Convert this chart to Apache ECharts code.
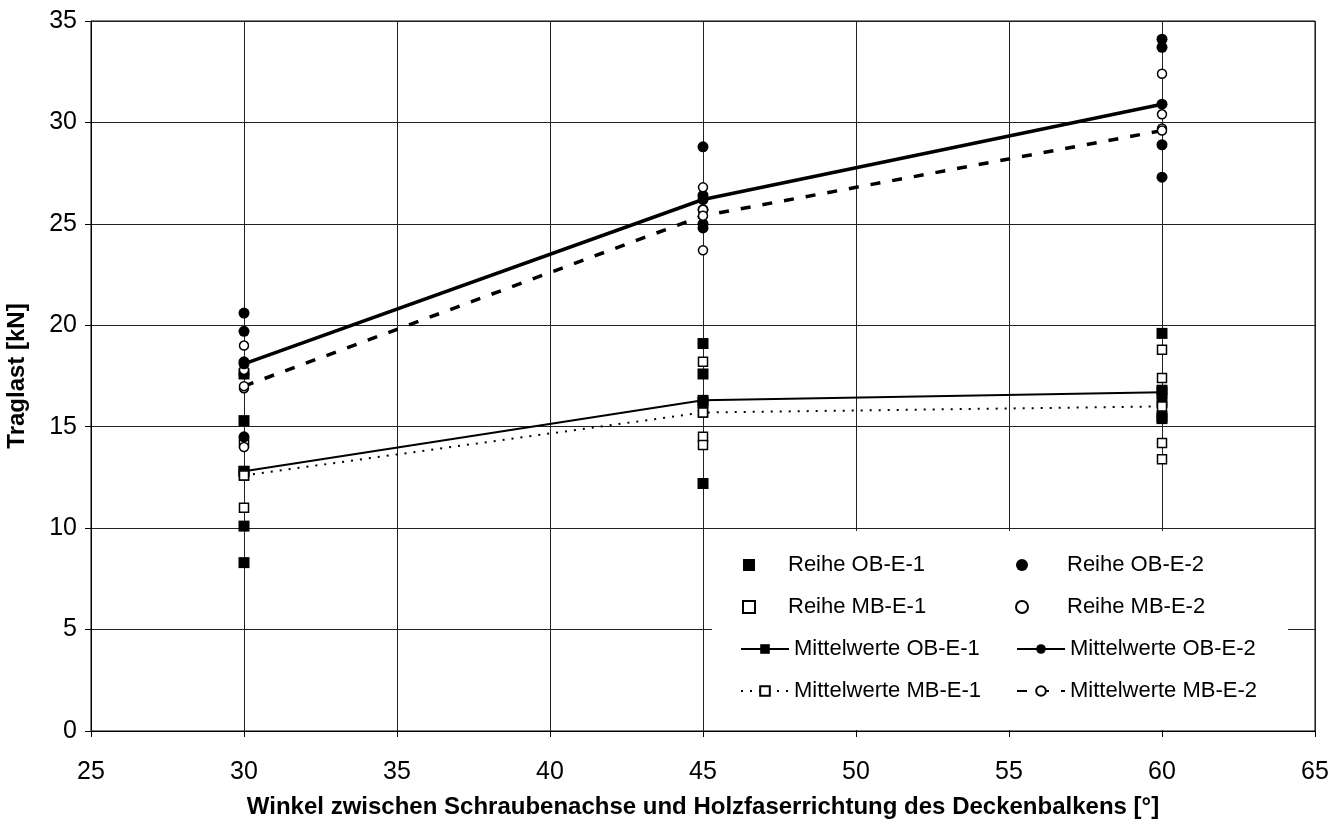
<!DOCTYPE html>
<html>
<head>
<meta charset="utf-8">
<script src="https://cdn.jsdelivr.net/npm/echarts@6/dist/echarts.min.js"></script>
<style>
  html, body { margin: 0; padding: 0; background: #fff; }
  #chart { width: 1344px; height: 830px; }
</style>
</head>
<body>
<div id="chart"></div>
<script>
// Winkel (x) der Versuchsreihen
const angles = [30, 45, 60]

// Einzelwerte je Winkel (Traglast in kN)
const reiheOBE1 = [[17.6, 15.3, 12.8, 10.1, 8.3], [19.1, 17.6, 16.2, 12.2], [19.6, 16.8, 16.2, 15.5, 15.4]]
const reiheMBE1 = [[14.2, 12.6, 11.0], [18.2, 15.7, 14.5, 14.1], [18.8, 17.4, 14.2, 13.4]]
const reiheOBE2 = [[20.6, 19.7, 18.2, 17.6, 14.5], [28.8, 26.4, 25.7, 25.0, 24.8], [34.1, 33.7, 28.9, 27.3]]
const reiheMBE2 = [[19.0, 17.8, 16.9, 14.0], [26.8, 25.7, 23.7], [32.4, 30.4, 29.7]]

// Mittelwerte je Winkel
const mittelOBE1 = [12.8, 16.3, 16.7]
const mittelMBE1 = [12.6, 15.7, 16.0]
const mittelOBE2 = [18.1, 26.2, 30.9]
const mittelMBE2 = [17.0, 25.4, 29.6]

const FONT = 'Liberation Sans'
const SQUARE = 'path://M0,0H10V10H0Z'

// Einzelwerte in [x, y]-Paare umwandeln
const toPoints = (groups) => {
  const pts = []
  groups.forEach((vals, i) => vals.forEach(v => pts.push([angles[i], v])))
  return pts
}
const toLine = (vals) => vals.map((v, i) => [angles[i], v])

const filled = { color: '#000', opacity: 1 }
const hollow = { color: '#fff', borderColor: '#000', borderWidth: 1.5, opacity: 1 }

const chart = echarts.init(document.getElementById('chart'))

// Legende: Einzelwerte (nur Symbol) und Mittelwerte (Linie + Symbol) getrennt
const legendReihe = (left, padLeft, names) => ({
  orient: 'vertical',
  left: left,
  top: 549,
  itemWidth: 12,
  itemHeight: 12,
  itemGap: 20,
  textStyle: { fontFamily: FONT, fontSize: 22, color: '#000', padding: [0, 0, 0, padLeft] },
  data: names
})
const legendMittel = (left, names) => ({
  orient: 'vertical',
  left: left,
  top: 633,
  itemWidth: 48,
  itemHeight: 12,
  itemGap: 20,
  textStyle: { fontFamily: FONT, fontSize: 22, color: '#000' },
  data: names
})

const option = {
  backgroundColor: '#fff',
  animation: false,
  textStyle: { fontFamily: FONT, color: '#000' },
  grid: {
    left: 91, right: 29, top: 21, bottom: 99,
    outerBoundsMode: 'none',
    show: true, borderColor: '#000', borderWidth: 1
  },
  xAxis: {
    type: 'value',
    min: 25,
    max: 65,
    interval: 5,
    name: 'Winkel zwischen Schraubenachse und Holzfaserrichtung des Deckenbalkens [°]',
    nameLocation: 'middle',
    nameGap: 64,
    nameTextStyle: { fontFamily: FONT, fontSize: 24, fontWeight: 'bold', color: '#000' },
    axisLine: { show: true, lineStyle: { color: '#000', width: 1 } },
    axisTick: { show: true, length: 6, lineStyle: { color: '#000' } },
    axisLabel: { fontFamily: FONT, fontSize: 25, color: '#000', margin: 29 },
    splitLine: { show: true, lineStyle: { color: '#222', width: 1 } }
  },
  yAxis: {
    type: 'value',
    min: 0,
    max: 35,
    interval: 5,
    name: 'Traglast [kN]',
    nameLocation: 'middle',
    nameGap: 62,
    nameTextStyle: { fontFamily: FONT, fontSize: 24, fontWeight: 'bold', color: '#000' },
    axisLine: { show: true, lineStyle: { color: '#000', width: 1 } },
    axisTick: { show: true, length: 6, lineStyle: { color: '#000' } },
    axisLabel: { fontFamily: FONT, fontSize: 25, color: '#000', margin: 14 },
    splitLine: { show: true, lineStyle: { color: '#222', width: 1 } }
  },
  // weisser Hintergrund der Legende (verdeckt die Gitterlinien)
  graphic: [
    {
      type: 'rect',
      z: 3,
      shape: { x: 712, y: 531, width: 576, height: 199 },
      style: { fill: '#fff' }
    }
  ],
  legend: [
    legendReihe(737, 28, ['Reihe OB-E-1', 'Reihe MB-E-1']),
    legendMittel(735, ['Mittelwerte OB-E-1', 'Mittelwerte MB-E-1']),
    legendReihe(1010, 34, ['Reihe OB-E-2', 'Reihe MB-E-2']),
    legendMittel(1011, ['Mittelwerte OB-E-2', 'Mittelwerte MB-E-2'])
  ],
  series: [
    {
      name: 'Reihe OB-E-1', type: 'scatter', symbol: SQUARE, symbolSize: 11, symbolKeepAspect: true,
      itemStyle: filled, data: toPoints(reiheOBE1)
    },
    {
      name: 'Reihe MB-E-1', type: 'scatter', symbol: SQUARE, symbolSize: 9, symbolKeepAspect: true,
      itemStyle: hollow, data: toPoints(reiheMBE1)
    },
    {
      name: 'Reihe OB-E-2', type: 'scatter', symbol: 'circle', symbolSize: 11,
      itemStyle: filled, data: toPoints(reiheOBE2)
    },
    {
      name: 'Reihe MB-E-2', type: 'scatter', symbol: 'circle', symbolSize: 9,
      itemStyle: hollow, data: toPoints(reiheMBE2)
    },
    {
      name: 'Mittelwerte OB-E-1', type: 'line', symbol: 'rect', symbolSize: 11, showSymbol: true,
      itemStyle: filled,
      lineStyle: { color: '#000', width: 2 },
      data: toLine(mittelOBE1)
    },
    {
      name: 'Mittelwerte MB-E-1', type: 'line', symbol: 'rect', symbolSize: 9, showSymbol: true,
      itemStyle: hollow,
      lineStyle: { color: '#000', width: 2, type: [2, 7] },
      data: toLine(mittelMBE1)
    },
    {
      name: 'Mittelwerte OB-E-2', type: 'line', symbol: 'circle', symbolSize: 11, showSymbol: true,
      itemStyle: filled,
      lineStyle: { color: '#000', width: 3.5 },
      data: toLine(mittelOBE2)
    },
    {
      name: 'Mittelwerte MB-E-2', type: 'line', symbol: 'circle', symbolSize: 9, showSymbol: true,
      itemStyle: hollow,
      lineStyle: { color: '#000', width: 3.5, type: [10, 12] },
      data: toLine(mittelMBE2)
    }
  ]
}

chart.setOption(option)
window.addEventListener('resize', () => chart.resize())
</script>
</body>
</html>
